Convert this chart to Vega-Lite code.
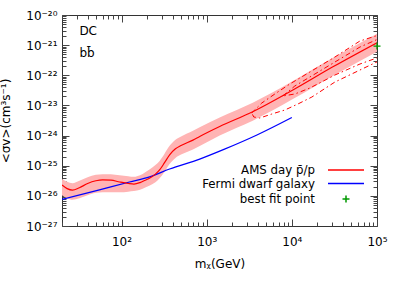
{
  "$schema": "https://vega.github.io/schema/vega-lite/v6.json",
  "width": 315,
  "height": 211,
  "autosize": {"type": "none"},
  "padding": {"left": 62, "top": 15, "right": 22, "bottom": 64},
  "background": "white",
  "config": {
    "font": "DejaVu Sans",
    "view": {"stroke": "#333333", "strokeWidth": 1},
    "axis": {
      "labelFont": "DejaVu Sans", "labelFontSize": 12, "labelColor": "#000000",
      "titleFont": "DejaVu Sans", "titleFontSize": 12, "titleFontWeight": "normal", "titleColor": "#000000",
      "domain": false, "grid": false, "tickColor": "#444444", "tickWidth": 1,
      "labelOverlap": false, "labelFlush": false, "labelBound": false
    },
    "legend": {"labelFont": "DejaVu Sans", "labelFontSize": 12, "labelColor": "#000000"}
  },
  "datasets": {
    "ams": [
      {"m": 20, "sv": 2.291e-26, "lo": 1.047e-26, "hi": 3.631e-26, "series": "AMS day p̄/p"},
      {"m": 23, "sv": 1.738e-26, "lo": 8.318e-27, "hi": 2.951e-26, "series": "AMS day p̄/p"},
      {"m": 26.5, "sv": 1.549e-26, "lo": 7.413e-27, "hi": 2.630e-26, "series": "AMS day p̄/p"},
      {"m": 32, "sv": 1.862e-26, "lo": 8.318e-27, "hi": 3.162e-26, "series": "AMS day p̄/p"},
      {"m": 40, "sv": 2.570e-26, "lo": 1.047e-26, "hi": 4.169e-26, "series": "AMS day p̄/p"},
      {"m": 50, "sv": 3.162e-26, "lo": 1.259e-26, "hi": 5.012e-26, "series": "AMS day p̄/p"},
      {"m": 60, "sv": 3.388e-26, "lo": 1.318e-26, "hi": 5.248e-26, "series": "AMS day p̄/p"},
      {"m": 75, "sv": 3.311e-26, "lo": 1.318e-26, "hi": 5.248e-26, "series": "AMS day p̄/p"},
      {"m": 95, "sv": 2.884e-26, "lo": 1.318e-26, "hi": 4.786e-26, "series": "AMS day p̄/p"},
      {"m": 120, "sv": 2.570e-26, "lo": 1.380e-26, "hi": 4.467e-26, "series": "AMS day p̄/p"},
      {"m": 140, "sv": 2.455e-26, "lo": 1.445e-26, "hi": 4.266e-26, "series": "AMS day p̄/p"},
      {"m": 165, "sv": 2.754e-26, "lo": 1.585e-26, "hi": 4.786e-26, "series": "AMS day p̄/p"},
      {"m": 190, "sv": 3.311e-26, "lo": 1.905e-26, "hi": 6.026e-26, "series": "AMS day p̄/p"},
      {"m": 215, "sv": 3.890e-26, "lo": 2.188e-26, "hi": 7.586e-26, "series": "AMS day p̄/p"},
      {"m": 250, "sv": 5.248e-26, "lo": 2.818e-26, "hi": 1.047e-25, "series": "AMS day p̄/p"},
      {"m": 280, "sv": 7.244e-26, "lo": 3.802e-26, "hi": 1.445e-25, "series": "AMS day p̄/p"},
      {"m": 320, "sv": 1.259e-25, "lo": 6.310e-26, "hi": 2.512e-25, "series": "AMS day p̄/p"},
      {"m": 367, "sv": 2.291e-25, "lo": 1.148e-25, "hi": 4.571e-25, "series": "AMS day p̄/p"},
      {"m": 430, "sv": 3.631e-25, "lo": 1.820e-25, "hi": 7.244e-25, "series": "AMS day p̄/p"},
      {"m": 500, "sv": 4.677e-25, "lo": 2.344e-25, "hi": 9.333e-25, "series": "AMS day p̄/p"},
      {"m": 690, "sv": 7.079e-25, "lo": 3.467e-25, "hi": 1.445e-24, "series": "AMS day p̄/p"},
      {"m": 828, "sv": 9.333e-25, "lo": 4.467e-25, "hi": 1.905e-24, "series": "AMS day p̄/p"},
      {"m": 1422, "sv": 1.995e-24, "lo": 1.0e-24, "hi": 3.981e-24, "series": "AMS day p̄/p"},
      {"m": 3475, "sv": 6.166e-24, "lo": 3.090e-24, "hi": 1.230e-23, "series": "AMS day p̄/p"},
      {"m": 10280, "sv": 3.236e-23, "lo": 1.622e-23, "hi": 6.457e-23, "series": "AMS day p̄/p"},
      {"m": 30340, "sv": 1.905e-22, "lo": 9.550e-23, "hi": 3.802e-22, "series": "AMS day p̄/p"},
      {"m": 100000, "sv": 1.202e-21, "lo": 6.026e-22, "hi": 2.399e-21, "series": "AMS day p̄/p"}
    ],
    "fermi": [
      {"m": 20, "sv": 7.586e-27, "series": "Fermi dwarf galaxy"},
      {"m": 55, "sv": 1.585e-26, "series": "Fermi dwarf galaxy"},
      {"m": 124, "sv": 2.884e-26, "series": "Fermi dwarf galaxy"},
      {"m": 214, "sv": 4.266e-26, "series": "Fermi dwarf galaxy"},
      {"m": 367, "sv": 7.762e-26, "series": "Fermi dwarf galaxy"},
      {"m": 828, "sv": 1.660e-25, "series": "Fermi dwarf galaxy"},
      {"m": 1620, "sv": 3.548e-25, "series": "Fermi dwarf galaxy"},
      {"m": 3890, "sv": 1.047e-24, "series": "Fermi dwarf galaxy"},
      {"m": 10000, "sv": 3.981e-24, "series": "Fermi dwarf galaxy"}
    ],
    "contours": [
      {"contour": "outer", "i": 0, "m": 3381, "sv": 5.61e-24},
      {"contour": "outer", "i": 1, "m": 4436, "sv": 1.202e-23},
      {"contour": "outer", "i": 2, "m": 6310, "sv": 2.393e-23},
      {"contour": "outer", "i": 3, "m": 9466, "sv": 5.14e-23},
      {"contour": "outer", "i": 4, "m": 16290, "sv": 1.285e-22},
      {"contour": "outer", "i": 5, "m": 32070, "sv": 4.045e-22},
      {"contour": "outer", "i": 6, "m": 63100, "sv": 1.371e-21},
      {"contour": "outer", "i": 7, "m": 124200, "sv": 2.53e-21},
      {"contour": "outer", "i": 8, "m": 124200, "sv": 3.74e-22},
      {"contour": "outer", "i": 9, "m": 63100, "sv": 1.496e-22},
      {"contour": "outer", "i": 10, "m": 32070, "sv": 5.98e-23},
      {"contour": "outer", "i": 11, "m": 17180, "sv": 1.901e-23},
      {"contour": "outer", "i": 12, "m": 11770, "sv": 1.114e-23},
      {"contour": "outer", "i": 13, "m": 8279, "sv": 7.05e-24},
      {"contour": "outer", "i": 14, "m": 5821, "sv": 5.19e-24},
      {"contour": "outer", "i": 15, "m": 4207, "sv": 3.83e-24},
      {"contour": "outer", "i": 16, "m": 3573, "sv": 4.13e-24},
      {"contour": "outer", "i": 17, "m": 3381, "sv": 5.61e-24},
      {"contour": "inner", "i": 0, "m": 7834, "sv": 2.056e-23},
      {"contour": "inner", "i": 1, "m": 10840, "sv": 4.41e-23},
      {"contour": "inner", "i": 2, "m": 16290, "sv": 8.77e-23},
      {"contour": "inner", "i": 3, "m": 32070, "sv": 2.76e-22},
      {"contour": "inner", "i": 4, "m": 63100, "sv": 8.67e-22},
      {"contour": "inner", "i": 5, "m": 124200, "sv": 2.01e-21},
      {"contour": "inner", "i": 6, "m": 124200, "sv": 4.71e-22},
      {"contour": "inner", "i": 7, "m": 63100, "sv": 2.366e-22},
      {"contour": "inner", "i": 8, "m": 32070, "sv": 1.021e-22},
      {"contour": "inner", "i": 9, "m": 16290, "sv": 3.78e-23},
      {"contour": "inner", "i": 10, "m": 10840, "sv": 2.393e-23},
      {"contour": "inner", "i": 11, "m": 7834, "sv": 2.056e-23}
    ],
    "best": [
      {"m": 100000, "sv": 9.33e-22, "series": "best fit point"}
    ],
    "notes": [
      {"m": 32, "sv": 2.17e-21, "text": "DC"},
      {"m": 32, "sv": 4.13e-22, "text": "bb̄"}
    ]
  },
  "layer": [
    {
      "data": {"name": "ams"},
      "mark": {"type": "area", "color": "#ffb4b4", "opacity": 1, "interpolate": "monotone", "clip": true},
      "encoding": {
        "x": {"field": "m", "type": "quantitative",
          "scale": {"type": "log", "domain": [20, 100000], "nice": false},
          "axis": {"orient": "top", "labels": false, "title": null,
            "values": [20,30,40,50,60,70,80,90,100,200,300,400,500,600,700,800,900,1000,2000,3000,4000,5000,6000,7000,8000,9000,10000,20000,30000,40000,50000,60000,70000,80000,90000,100000],
            "tickSize": {"condition": {"test": "abs(log(datum.value)/LN10 - round(log(datum.value)/LN10)) < 0.01", "value": -7}, "value": -4}}},
        "y": {"field": "lo", "type": "quantitative",
          "scale": {"type": "log", "domain": [1e-27, 1e-20], "nice": false},
          "axis": {"orient": "right", "labels": false, "title": null,
            "values": [1e-27,2e-27,3e-27,4e-27,5e-27,6e-27,7e-27,8e-27,9e-27,1e-26,2e-26,3e-26,4e-26,5e-26,6e-26,7e-26,8e-26,9e-26,1e-25,2e-25,3e-25,4e-25,5e-25,6e-25,7e-25,8e-25,9e-25,1e-24,2e-24,3e-24,4e-24,5e-24,6e-24,7e-24,8e-24,9e-24,1e-23,2e-23,3e-23,4e-23,5e-23,6e-23,7e-23,8e-23,9e-23,1e-22,2e-22,3e-22,4e-22,5e-22,6e-22,7e-22,8e-22,9e-22,1e-21,2e-21,3e-21,4e-21,5e-21,6e-21,7e-21,8e-21,9e-21,1e-20],
            "tickSize": {"condition": {"test": "abs(log(datum.value)/LN10 - round(log(datum.value)/LN10)) < 0.01", "value": -7}, "value": -4}}},
        "y2": {"field": "hi"}
      }
    },
    {
      "data": {"name": "fermi"},
      "mark": {"type": "line", "strokeWidth": 1.2, "interpolate": "monotone", "clip": true},
      "encoding": {
        "x": {"field": "m", "type": "quantitative", "scale": {"type": "log", "domain": [20, 100000], "nice": false}, "axis": null},
        "y": {"field": "sv", "type": "quantitative", "scale": {"type": "log", "domain": [1e-27, 1e-20], "nice": false}, "axis": null},
        "color": {"field": "series", "type": "nominal"}
      }
    },
    {
      "data": {"name": "contours"},
      "mark": {"type": "line", "color": "#ff0000", "strokeWidth": 1, "strokeDash": [5, 3, 1.5, 3], "clip": true},
      "encoding": {
        "x": {"field": "m", "type": "quantitative", "scale": {"type": "log", "domain": [20, 100000], "nice": false}, "axis": null},
        "y": {"field": "sv", "type": "quantitative", "scale": {"type": "log", "domain": [1e-27, 1e-20], "nice": false}, "axis": null},
        "detail": {"field": "contour", "type": "nominal"},
        "order": {"field": "i", "type": "quantitative"}
      }
    },
    {
      "data": {"name": "ams"},
      "mark": {"type": "line", "strokeWidth": 1.2, "interpolate": "monotone", "clip": true},
      "encoding": {
        "x": {"field": "m", "type": "quantitative",
          "scale": {"type": "log", "domain": [20, 100000], "nice": false},
          "axis": {"orient": "bottom", "title": "mᵪ(GeV)", "titlePadding": 8,
            "values": [20,30,40,50,60,70,80,90,100,200,300,400,500,600,700,800,900,1000,2000,3000,4000,5000,6000,7000,8000,9000,10000,20000,30000,40000,50000,60000,70000,80000,90000,100000],
            "labelExpr": "abs(log(datum.value)/LN10 - round(log(datum.value)/LN10)) < 0.01 ? '10' + ['⁰','¹','²','³','⁴','⁵','⁶','⁷','⁸','⁹'][round(log(datum.value)/LN10)] : ''",
            "labelPadding": 17,
            "tickSize": {"condition": {"test": "abs(log(datum.value)/LN10 - round(log(datum.value)/LN10)) < 0.01", "value": -7}, "value": -4}}},
        "y": {"field": "sv", "type": "quantitative",
          "scale": {"type": "log", "domain": [1e-27, 1e-20], "nice": false},
          "axis": {"orient": "left", "title": "<σv>(cm³s⁻¹)", "titlePadding": 13,
            "values": [1e-27,2e-27,3e-27,4e-27,5e-27,6e-27,7e-27,8e-27,9e-27,1e-26,2e-26,3e-26,4e-26,5e-26,6e-26,7e-26,8e-26,9e-26,1e-25,2e-25,3e-25,4e-25,5e-25,6e-25,7e-25,8e-25,9e-25,1e-24,2e-24,3e-24,4e-24,5e-24,6e-24,7e-24,8e-24,9e-24,1e-23,2e-23,3e-23,4e-23,5e-23,6e-23,7e-23,8e-23,9e-23,1e-22,2e-22,3e-22,4e-22,5e-22,6e-22,7e-22,8e-22,9e-22,1e-21,2e-21,3e-21,4e-21,5e-21,6e-21,7e-21,8e-21,9e-21,1e-20],
            "labelExpr": "abs(log(datum.value)/LN10 - round(log(datum.value)/LN10)) < 0.01 ? '10⁻²' + ['⁰','¹','²','³','⁴','⁵','⁶','⁷','⁸','⁹'][-round(log(datum.value)/LN10) - 20] : ''",
            "labelPadding": 12,
            "tickSize": {"condition": {"test": "abs(log(datum.value)/LN10 - round(log(datum.value)/LN10)) < 0.01", "value": -7}, "value": -4}}},
        "color": {"field": "series", "type": "nominal",
          "scale": {"domain": ["AMS day p̄/p", "Fermi dwarf galaxy", "best fit point"], "range": ["#ff0000", "#0000ff", "#009900"]},
          "legend": {"orient": "none", "legendX": 278, "legendY": 153, "title": null, "padding": 0,
            "symbolSize": 100, "labelAlign": "right", "labelOffset": -37, "labelBaseline": "alphabetic",
            "labelFontSize": 11.8,
            "rowPadding": 1.5,
            "encode": {"symbols": {"update": {
              "shape": {"signal": "datum.value === 'best fit point' ? 'M-0.7,-0.8H0.7M0,-1.5V-0.1' : 'M-3.6,-0.8H3.6'"},
              "stroke": {"scale": "color", "field": "value"},
              "fill": {"value": "transparent"},
              "strokeWidth": {"value": 1.5},
              "opacity": {"value": 1}
            }}}}}
      }
    },
    {
      "data": {"name": "best"},
      "mark": {"type": "point", "shape": "M-1,0H1M0,-1V1", "size": 49, "filled": false, "strokeWidth": 1.3, "opacity": 1},
      "encoding": {
        "x": {"field": "m", "type": "quantitative", "scale": {"type": "log", "domain": [20, 100000], "nice": false}, "axis": null},
        "y": {"field": "sv", "type": "quantitative", "scale": {"type": "log", "domain": [1e-27, 1e-20], "nice": false}, "axis": null},
        "color": {"field": "series", "type": "nominal"}
      }
    },
    {
      "data": {"name": "notes"},
      "mark": {"type": "text", "align": "left", "baseline": "alphabetic", "fontSize": 12, "font": "DejaVu Sans", "color": "#000000"},
      "encoding": {
        "x": {"field": "m", "type": "quantitative", "scale": {"type": "log", "domain": [20, 100000], "nice": false}, "axis": null},
        "y": {"field": "sv", "type": "quantitative", "scale": {"type": "log", "domain": [1e-27, 1e-20], "nice": false}, "axis": null},
        "text": {"field": "text"}
      }
    }
  ],
  "resolve": {"axis": {"x": "independent", "y": "independent"}}
}
